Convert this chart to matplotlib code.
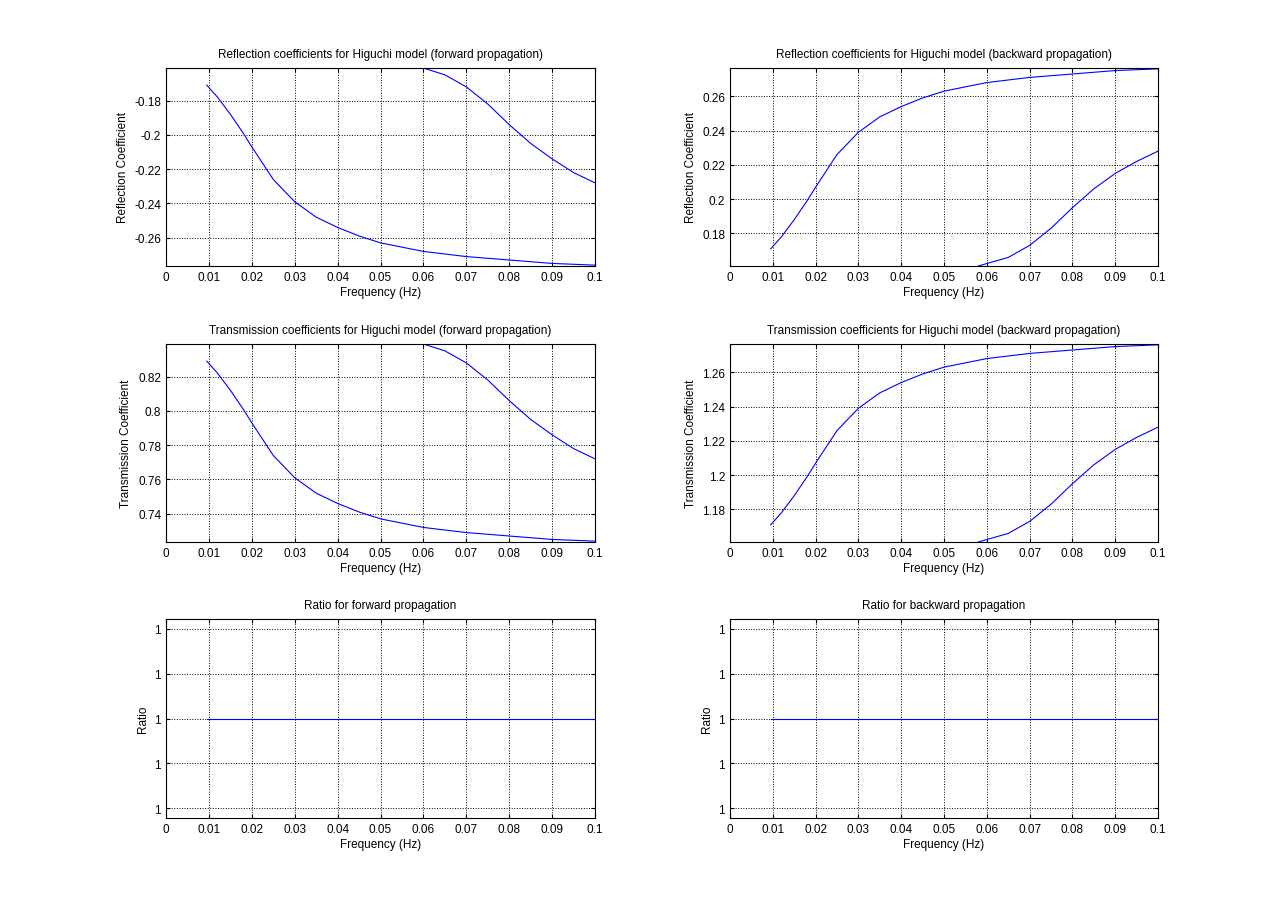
import numpy as np
import matplotlib
matplotlib.use("Agg")
import matplotlib.pyplot as plt

plt.rcParams['font.family'] = ['Liberation Sans', 'DejaVu Sans']
plt.rcParams['font.size'] = 8.5

# forward reflection, low branch and high branch
f_low = [0.0095, 0.012, 0.015, 0.018, 0.02, 0.025, 0.03, 0.035, 0.04, 0.045,
         0.05, 0.06, 0.07, 0.08, 0.09, 0.1]
r_fwd_low = [-0.171, -0.178, -0.188, -0.199, -0.207, -0.226, -0.239, -0.248, -0.254,
             -0.259, -0.263, -0.268, -0.271, -0.273, -0.275, -0.276]
f_hi_fwd = [0.06, 0.065, 0.07, 0.075, 0.08, 0.085, 0.09, 0.095, 0.1]
r_fwd_hi = [-0.161, -0.165, -0.172, -0.182, -0.194, -0.205, -0.214, -0.222, -0.228]

# backward reflection
r_bwd_low = [0.171, 0.178, 0.188, 0.199, 0.207, 0.226, 0.239, 0.248, 0.254,
             0.259, 0.263, 0.268, 0.271, 0.273, 0.275, 0.276]
f_hi_bwd = [0.058, 0.065, 0.07, 0.075, 0.08, 0.085, 0.09, 0.095, 0.1]
r_bwd_hi = [0.161, 0.166, 0.173, 0.183, 0.195, 0.206, 0.215, 0.222, 0.228]

# transmission = 1 + reflection
t_fwd_low = [1 + v for v in r_fwd_low]
t_fwd_hi = [1 + v for v in r_fwd_hi]
t_bwd_low = [1 + v for v in r_bwd_low]
t_bwd_hi = [1 + v for v in r_bwd_hi]

ratio_f = [0.0095, 0.1]
ratio_v = [0.0, 0.0]

xticks = np.round(np.arange(0, 0.101, 0.01), 2)
xlabels = ['0'] + [f'{v:g}' for v in xticks[1:]]

fig = plt.figure(figsize=(12.8, 9.2), dpi=100)
W, H = 1280, 920

def make_ax(x0, y0, x1, y1):
    return fig.add_axes([x0 / W, 1 - y1 / H, (x1 - x0) / W, (y1 - y0) / H])

def style(ax, title, ylabel):
    ax.set_xlim(0, 0.1)
    ax.set_xticks(xticks)
    ax.set_xticklabels(xlabels)
    ax.grid(True, linestyle=':', color='black', linewidth=0.7)
    ax.set_title(title, fontsize=8.5, pad=8)
    ax.set_xlabel('Frequency (Hz)', labelpad=2)
    ax.set_ylabel(ylabel)
    ax.tick_params(direction='in', length=3, top=True, right=True)

cols = [(166, 595), (730, 1158)]
rows = [(69, 267), (345, 543), (620, 819)]

ax = make_ax(cols[0][0], rows[0][0], cols[0][1], rows[0][1])
ax.plot(f_low, r_fwd_low, color='blue', lw=0.8)
ax.plot(f_hi_fwd, r_fwd_hi, color='blue', lw=0.8)
ax.set_ylim(-0.2765, -0.161)
ax.set_yticks([-0.26, -0.24, -0.22, -0.2, -0.18])
ax.set_yticklabels(['-0.26', '-0.24', '-0.22', '-0.2', '-0.18'])
style(ax, 'Reflection coefficients for Higuchi model (forward propagation)', 'Reflection Coefficient')

ax = make_ax(cols[1][0], rows[0][0], cols[1][1], rows[0][1])
ax.plot(f_low, r_bwd_low, color='blue', lw=0.8)
ax.plot(f_hi_bwd, r_bwd_hi, color='blue', lw=0.8)
ax.set_ylim(0.161, 0.2765)
ax.set_yticks([0.18, 0.2, 0.22, 0.24, 0.26])
ax.set_yticklabels(['0.18', '0.2', '0.22', '0.24', '0.26'])
style(ax, 'Reflection coefficients for Higuchi model (backward propagation)', 'Reflection Coefficient')

ax = make_ax(cols[0][0], rows[1][0], cols[0][1], rows[1][1])
ax.plot(f_low, t_fwd_low, color='blue', lw=0.8)
ax.plot(f_hi_fwd, t_fwd_hi, color='blue', lw=0.8)
ax.set_ylim(0.7235, 0.839)
ax.set_yticks([0.74, 0.76, 0.78, 0.8, 0.82])
ax.set_yticklabels(['0.74', '0.76', '0.78', '0.8', '0.82'])
style(ax, 'Transmission coefficients for Higuchi model (forward propagation)', 'Transmission Coefficient')

ax = make_ax(cols[1][0], rows[1][0], cols[1][1], rows[1][1])
ax.plot(f_low, t_bwd_low, color='blue', lw=0.8)
ax.plot(f_hi_bwd, t_bwd_hi, color='blue', lw=0.8)
ax.set_ylim(1.161, 1.2765)
ax.set_yticks([1.18, 1.2, 1.22, 1.24, 1.26])
ax.set_yticklabels(['1.18', '1.2', '1.22', '1.24', '1.26'])
style(ax, 'Transmission coefficients for Higuchi model (backward propagation)', 'Transmission Coefficient')

for c, title in zip(cols, ['Ratio for forward propagation', 'Ratio for backward propagation']):
    ax = make_ax(c[0], rows[2][0], c[1], rows[2][1])
    ax.plot(ratio_f, ratio_v, color='blue', lw=0.8)
    ax.set_ylim(-2.22, 2.22)
    ax.set_yticks([-2, -1, 0, 1, 2])
    ax.set_yticklabels(['1'] * 5)
    style(ax, title, 'Ratio')

fig.savefig('out.png', dpi=100)
